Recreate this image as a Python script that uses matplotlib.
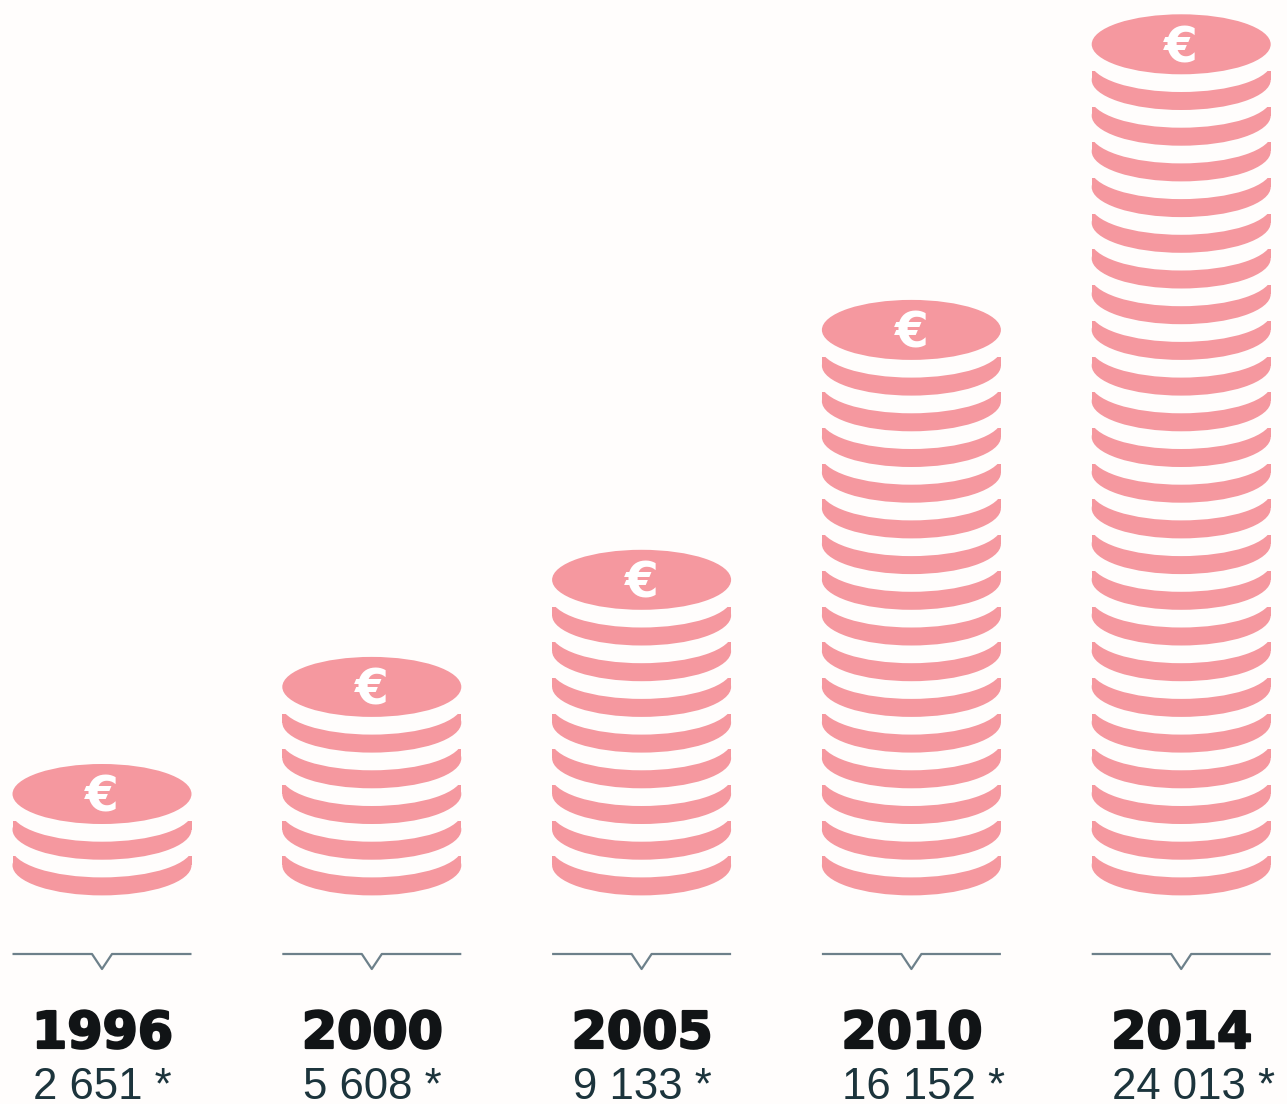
import matplotlib
matplotlib.use("Agg")
import matplotlib.pyplot as plt
import matplotlib.patheffects as pe
from matplotlib.patches import Ellipse, Rectangle

years = ["1996", "2000", "2005", "2010", "2014"]
values = [2651, 5608, 9133, 16152, 24013]
value_labels = ["2 651 *", "5 608 *", "9 133 *", "16 152 *", "24 013 *"]

PINK = "#f5989f"
PAPER = "#fffdfc"
RULE = "#6d808a"
INK = "#111416"
TEXT = "#1c343c"

# one coin stands for 1000 euros
EUROS_PER_COIN = 1000
COIN_STEP = 35.7
BASE_Y = 865.4
RX, RY = 89.5, 30
FIRST_X, STACK_STEP = 102, 269.8


def draw_stack(ax, x, n_coins):
    for k in range(n_coins):
        cy = BASE_Y - k * COIN_STEP
        ax.add_patch(Ellipse((x, cy), 2 * RX, 2 * RY, fc=PINK, ec="none"))
        if k == n_coins - 1:
            # top coin stays a full disc with the euro sign on it
            ax.text(x, cy + 4, "€", color="white", fontsize=35, fontweight="bold",
                    ha="center", va="center", family="DejaVu Sans")
        else:
            ax.add_patch(Rectangle((x - RX, cy - 9), 2 * RX, 9, fc=PINK, ec="none"))
            ax.add_patch(Ellipse((x, cy - 18), 2 * RX + 2, 2 * RY, fc=PAPER, ec="none"))


def draw_bracket(ax, x):
    xs = [x - RX, x - 10, x, x + 10, x + RX]
    ys = [954, 954, 969, 954, 954]
    ax.plot(xs, ys, color=RULE, lw=1.6, solid_joinstyle="round", solid_capstyle="butt")


fig = plt.figure(figsize=(12.87, 11.04), dpi=100, facecolor=PAPER)
ax = fig.add_axes([0, 0, 1, 1])
ax.set_xlim(0, 1287)
ax.set_ylim(1104, 0)
ax.axis("off")

for i, (year, value, label) in enumerate(zip(years, values, value_labels)):
    x = FIRST_X + i * STACK_STEP
    draw_stack(ax, x, round(value / EUROS_PER_COIN))
    draw_bracket(ax, x)
    t = ax.text(x - 70, 1048, year, color=INK, fontsize=36.5, fontweight="bold",
                family="DejaVu Sans", ha="left", va="baseline")
    t.set_path_effects([pe.withStroke(linewidth=1.6, foreground=INK)])
    ax.text(x - 69, 1099, label, color=TEXT, fontsize=31.5,
            family="Liberation Sans", ha="left", va="baseline")

fig.savefig("out.png", dpi=100, facecolor=PAPER)
